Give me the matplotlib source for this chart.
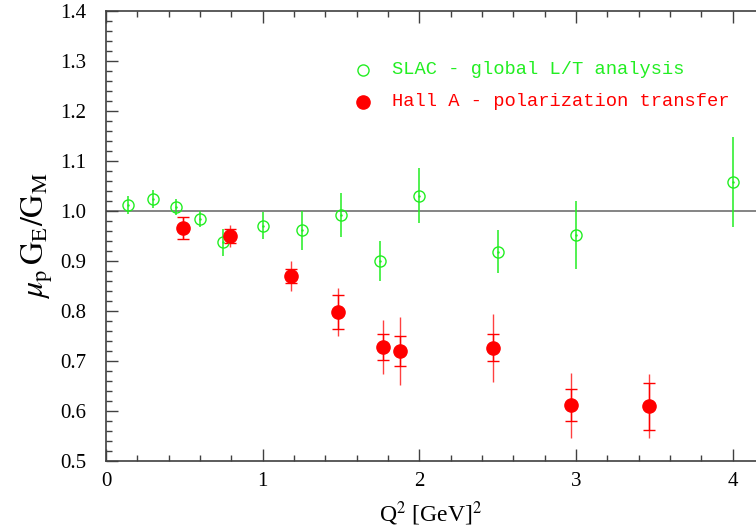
import numpy as np
import matplotlib
matplotlib.use("Agg")
import matplotlib.pyplot as plt
from matplotlib.ticker import MultipleLocator

# SLAC - global L/T analysis (open circles)
q2_slac = [0.14, 0.30, 0.45, 0.60, 0.75, 1.00, 1.25, 1.50, 1.75, 2.00, 2.50, 3.00, 4.00]
r_slac = [1.013, 1.024, 1.009, 0.985, 0.938, 0.971, 0.962, 0.993, 0.900, 1.031, 0.919, 0.953, 1.059]
err_slac = [0.018, 0.018, 0.016, 0.016, 0.027, 0.027, 0.039, 0.044, 0.040, 0.055, 0.043, 0.068, 0.090]

# Hall A - polarization transfer (filled circles), stat and total errors
q2_halla = [0.49, 0.79, 1.18, 1.48, 1.77, 1.88, 2.47, 2.97, 3.47]
r_halla = [0.967, 0.951, 0.870, 0.798, 0.729, 0.721, 0.727, 0.612, 0.610]
stat_halla = [0.022, 0.014, 0.014, 0.033, 0.026, 0.030, 0.027, 0.032, 0.047]
tot_halla = [0.022, 0.022, 0.030, 0.048, 0.054, 0.068, 0.068, 0.065, 0.064]

green = "#22ee22"
red = "#ff0000"
axcol = "#404040"

plt.rcParams['font.family'] = ['Liberation Serif', 'DejaVu Serif']
plt.rcParams['mathtext.fontset'] = 'stix'

fig = plt.figure(figsize=(7.56, 5.31), dpi=100)
ax = fig.add_axes([106/756, 1 - 461/531, 650/756, 450/531])

ax.axhline(1.0, color="#707070", lw=1.2, zorder=1)

ax.errorbar(q2_slac, r_slac, yerr=err_slac, fmt='none', ecolor=green, elinewidth=1.1, zorder=2)
ax.plot(q2_slac, r_slac, 'o', mfc='none', mec=green, mew=1.0, ms=8, zorder=3)
ax.plot(q2_slac, r_slac, '.', color=green, ms=1.5, zorder=3)

ax.errorbar(q2_halla, r_halla, yerr=tot_halla, fmt='none', ecolor=red, elinewidth=1.0, alpha=0.75, zorder=2)
ax.errorbar(q2_halla, r_halla, yerr=stat_halla, fmt='none', ecolor=red, elinewidth=1.0,
            capsize=4.5, capthick=1.0, zorder=2)
ax.plot(q2_halla, r_halla, 'o', color=red, ms=9.5, zorder=4)

ax.set_xlim(0, 4.15)
ax.set_ylim(0.5, 1.4)
ax.xaxis.set_major_locator(MultipleLocator(1))
ax.xaxis.set_minor_locator(MultipleLocator(0.2))
ax.yaxis.set_major_locator(MultipleLocator(0.1))
ax.yaxis.set_minor_locator(MultipleLocator(0.02))
ax.yaxis.set_major_formatter(matplotlib.ticker.FormatStrFormatter('%.1f'))

ax.tick_params(which='both', direction='in', top=True, right=False, colors=axcol, labelcolor='black')
ax.tick_params(which='major', length=8.5, width=1.0, labelsize=15)
ax.tick_params(which='minor', length=4.5, width=1.0)
ax.tick_params(axis='x', pad=8)
ax.tick_params(axis='y', pad=14)
for s in ['left', 'bottom', 'top']:
    ax.spines[s].set_color(axcol)
    ax.spines[s].set_linewidth(1.2)
ax.spines['right'].set_visible(False)

ax.set_xlabel(r'Q$^2$ [GeV]$^2$', fontsize=17, labelpad=6)
ax.set_ylabel(r'$\mu_{\rm p}\,{\rm G}_{\rm E}/{\rm G}_{\rm M}$', fontsize=23, labelpad=4)

# legend drawn as text
ax.plot([1.64], [1.282], 'o', mfc='none', mec=green, mew=1.0, ms=8)
ax.plot([1.64], [1.219], 'o', color=red, ms=9.5)
ax.text(1.826, 1.282, 'SLAC - global L/T analysis', color=green, fontsize=13.5,
        family=['Liberation Mono', 'DejaVu Sans Mono'], va='center')
ax.text(1.826, 1.219, 'Hall A - polarization transfer', color=red, fontsize=13.5,
        family=['Liberation Mono', 'DejaVu Sans Mono'], va='center')

fig.savefig("out.png", dpi=100)
